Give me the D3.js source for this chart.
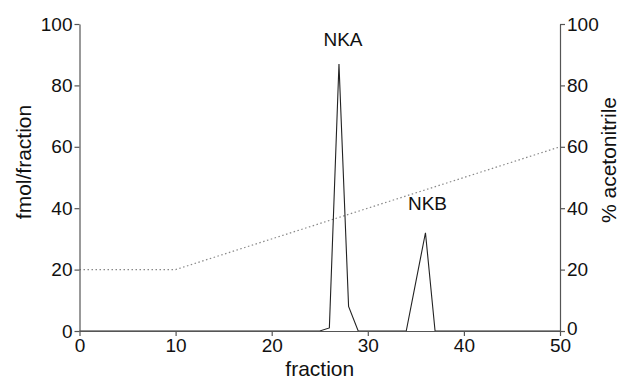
<!DOCTYPE html>
<html>
<head>
<meta charset="utf-8">
<script src="https://cdn.jsdelivr.net/npm/d3@7"></script>
<style>
  body { margin: 0; background: #fff; }
  text { font-family: "Liberation Sans", Arial, sans-serif; fill: #111; }
</style>
</head>
<body>
<svg id="chart" width="619" height="382"></svg>
<script>
// fraction number and fmol/fraction
const fractions = [0, 25, 26, 27, 28, 29, 34, 35, 36, 37, 50];
const fmol = [0, 0, 1, 87, 8, 0, 0, 16, 32, 0, 0];

// acetonitrile gradient (dotted)
const gradFractions = [0, 10, 50];
const acetonitrile = [20, 20, 60];

const xTicks = [0, 10, 20, 30, 40, 50];
const yTicks = [0, 20, 40, 60, 80, 100];

const peakLabels = ["NKA", "NKB"];
const peakAt = [27, 36];
const peakVal = [87, 32];

const svg = d3.select("#chart");
const margin = { left: 79.5, right: 59, top: 24, bottom: 51 };
const width = +svg.attr("width");
const height = +svg.attr("height");

const x = d3.scaleLinear().domain([0, 50]).range([margin.left, width - margin.right]);
const y = d3.scaleLinear().domain([0, 100]).range([height - margin.bottom, margin.top]);
const y2 = d3.scaleLinear().domain([0, 100]).range([height - margin.bottom, margin.top]);

// gradient line
const grad = gradFractions.map((f, i) => [f, acetonitrile[i]]);
svg.append("path")
  .datum(grad)
  .attr("fill", "none")
  .attr("stroke", "#888")
  .attr("stroke-width", 1.2)
  .attr("stroke-dasharray", "1.5,2.5")
  .attr("d", d3.line().x(d => x(d[0])).y(d => y2(d[1])));

// fmol trace
const trace = fractions.map((f, i) => [f, fmol[i]]);
svg.append("path")
  .datum(trace)
  .attr("fill", "none")
  .attr("stroke", "#222")
  .attr("stroke-width", 1.1)
  .attr("d", d3.line().x(d => x(d[0])).y(d => y(d[1])));

// axes
const styleAxis = g => {
  g.select(".domain").attr("stroke", "#555").attr("stroke-width", 1.2);
  g.selectAll(".tick line").attr("stroke", "#555").attr("stroke-width", 1.2);
  g.selectAll(".tick text").style("font-size", "19px").attr("fill", "#111");
};

svg.append("g")
  .attr("transform", `translate(0,${y(0)})`)
  .call(d3.axisBottom(x).tickValues(xTicks).tickSize(5).tickPadding(3).tickSizeOuter(0))
  .call(styleAxis);

svg.append("g")
  .attr("transform", `translate(${x(0)},0)`)
  .call(d3.axisLeft(y).tickValues(yTicks).tickSize(5).tickPadding(2).tickSizeOuter(0))
  .call(styleAxis);

svg.append("g")
  .attr("transform", `translate(${x(50)},0)`)
  .call(d3.axisRight(y2).tickValues(yTicks).tickSize(5).tickPadding(2).tickSizeOuter(0))
  .call(styleAxis)
  .call(g => g.selectAll(".tick text").filter(d => d === 0).attr("dy", "0.2em"));

// axis titles
svg.append("text")
  .attr("x", (x(0) + x(50)) / 2)
  .attr("y", 376)
  .attr("text-anchor", "middle")
  .style("font-size", "21px")
  .text("fraction");

svg.append("text")
  .attr("transform", "translate(31,162) rotate(-90)")
  .attr("text-anchor", "middle")
  .style("font-size", "21px")
  .text("fmol/fraction");

svg.append("text")
  .attr("transform", "translate(616,160) rotate(-90)")
  .attr("text-anchor", "middle")
  .style("font-size", "21px")
  .text("% acetonitrile");

// peak labels
svg.selectAll(".peak")
  .data(peakLabels)
  .enter()
  .append("text")
  .attr("class", "peak")
  .attr("x", (d, i) => x(peakAt[i]) + (i === 0 ? 4 : 2))
  .attr("y", (d, i) => y(peakVal[i]) - (i === 0 ? 18 : 23))
  .attr("text-anchor", "middle")
  .style("font-size", "19px")
  .text(d => d);
</script>
</body>
</html>
